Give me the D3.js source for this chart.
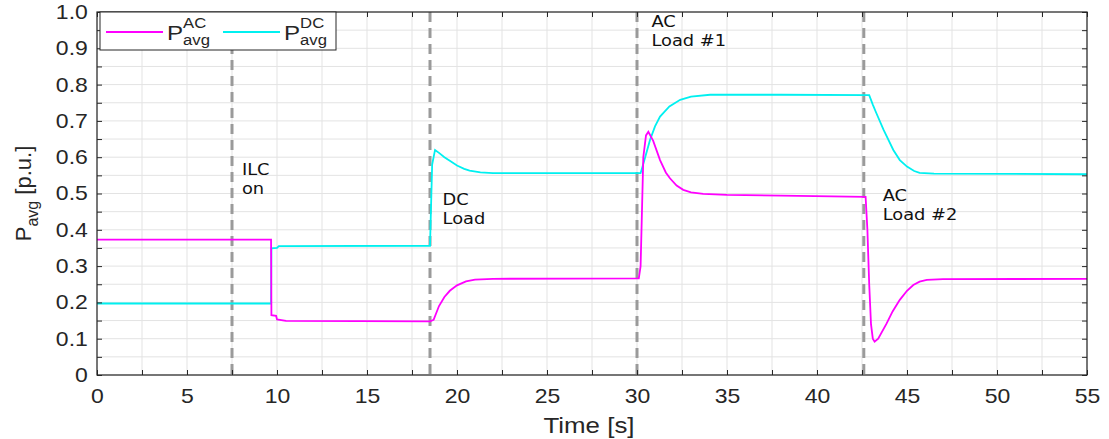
<!DOCTYPE html>
<html><head><meta charset="utf-8">
<script src="https://cdn.jsdelivr.net/npm/d3@7"></script>
<style>body{margin:0;background:#fff}svg{display:block}</style>
</head><body><svg id="c" width="1109" height="439"></svg>
<script>
// ---- data ----
const acTime  = [0,9.67,9.69,9.95,10.0,10.5,18.5,18.7,19.0,19.3,19.6,20.0,20.5,21.0,22,30.1,30.2,30.35,30.5,30.63,30.9,31.28,31.6,31.83,32.2,32.57,33.0,33.68,35,38,42.7,42.8,42.9,43.0,43.1,43.2,43.4,43.87,44.2,44.6,45.0,45.35,45.7,46.1,47,55];
const acPower = [0.373,0.373,0.165,0.163,0.153,0.149,0.148,0.152,0.19,0.215,0.232,0.247,0.258,0.263,0.265,0.266,0.30,0.60,0.66,0.670,0.645,0.592,0.558,0.542,0.522,0.51,0.503,0.499,0.496,0.494,0.491,0.40,0.25,0.14,0.100,0.092,0.100,0.142,0.175,0.207,0.232,0.248,0.257,0.262,0.264,0.265];
const dcTime  = [0,9.67,9.69,10.0,10.1,18.5,18.55,18.62,18.78,19.0,19.3,19.6,20.0,20.4,20.7,21.3,22,30.2,30.4,30.72,31.0,31.28,31.8,32.4,33.0,34.06,38,42.9,43.1,43.3,43.7,44.24,44.6,45.0,45.4,45.7,46.5,55];
const dcPower = [0.197,0.197,0.349,0.350,0.355,0.356,0.45,0.58,0.620,0.612,0.600,0.590,0.577,0.568,0.563,0.558,0.556,0.556,0.590,0.647,0.685,0.712,0.740,0.758,0.767,0.772,0.772,0.771,0.745,0.721,0.675,0.62,0.592,0.574,0.562,0.557,0.555,0.553];
const eventTimes  = [7.5, 18.5, 30.0, 42.6];
const eventLine1  = ["ILC", "DC", "AC", "AC"];
const eventLine2  = ["on", "Load", "Load #1", "Load #2"];
const eventLabelT = [8.05, 19.2, 30.8, 43.65];
const eventLabelV = [0.565, 0.482, 0.972, 0.493];
const xTicks = [0,5,10,15,20,25,30,35,40,45,50,55];
const yTicks = [0,0.1,0.2,0.3,0.4,0.5,0.6,0.7,0.8,0.9,1.0];
const yTickLabels = ["0","0.1","0.2","0.3","0.4","0.5","0.6","0.7","0.8","0.9","1.0"];

// ---- layout ----
const svg = d3.select("#c");
const L = 97, R = 1087, T = 12, B = 375;
const SX = 1.15; // horizontal text stretch seen in the reference
const x = d3.scaleLinear().domain([0,55]).range([L,R]);
const y = d3.scaleLinear().domain([0,1]).range([B,T]);
const AC = "#ff00ff", DC = "#00f0f0";
const FONT = "Liberation Sans, Arial";

// grid
const gx = d3.range(0,55.01,2.5), gy = d3.range(0,1.001,0.05);
svg.append("g").selectAll("line").data(gx).join("line")
  .attr("x1",d=>x(d)).attr("x2",d=>x(d)).attr("y1",T).attr("y2",B)
  .attr("stroke","#e3e3e3").attr("stroke-width",1);
svg.append("g").selectAll("line").data(gy).join("line")
  .attr("y1",d=>y(d)).attr("y2",d=>y(d)).attr("x1",L).attr("x2",R)
  .attr("stroke","#e3e3e3").attr("stroke-width",1);

// event lines
svg.append("g").selectAll("line").data(eventTimes).join("line")
  .attr("x1",d=>x(d)).attr("x2",d=>x(d)).attr("y1",T).attr("y2",B)
  .attr("stroke","#9a9a9a").attr("stroke-width",3).attr("stroke-dasharray","10,6");

// series
const line = d3.line().x(d=>x(d[0])).y(d=>y(d[1]));
svg.append("path").datum(dcTime.map((t,i)=>[t,dcPower[i]]))
  .attr("d",line).attr("fill","none").attr("stroke",DC).attr("stroke-width",1.8);
svg.append("path").datum(acTime.map((t,i)=>[t,acPower[i]]))
  .attr("d",line).attr("fill","none").attr("stroke",AC).attr("stroke-width",1.8);

// event labels
eventTimes.forEach((e,i)=>{
  const g = svg.append("g").attr("transform",`translate(${x(eventLabelT[i])},${y(eventLabelV[i])+5}) scale(${SX},1)`);
  const t = g.append("text").attr("font-family","DejaVu Sans").attr("font-size",15.5).attr("fill","#111");
  t.append("tspan").attr("x",0).text(eventLine1[i]);
  t.append("tspan").attr("x",0).attr("dy",19).text(eventLine2[i]);
});

// axes
const minorX = d3.range(0,55.01,2.5), minorY = d3.range(0,1.001,0.05);
function ticksOnly(gen, tr){
  svg.append("g").attr("transform",tr)
    .call(gen.tickSizeInner(-5).tickSizeOuter(0).tickFormat(""))
    .call(g=>g.select(".domain").remove()).selectAll("line").attr("stroke","#262626");
}
ticksOnly(d3.axisBottom(x).tickValues(minorX), `translate(0,${B})`);
ticksOnly(d3.axisTop(x).tickValues(minorX), `translate(0,${T})`);
ticksOnly(d3.axisLeft(y).tickValues(minorY), `translate(${L},0)`);
ticksOnly(d3.axisRight(y).tickValues(minorY), `translate(${R},0)`);

svg.append("g").attr("transform",`translate(0,${B})`)
  .call(d3.axisBottom(x).tickValues(xTicks).tickSize(0).tickPadding(14).tickFormat(d3.format("d")))
  .attr("font-family",FONT).attr("font-size",20)
  .call(g=>g.select(".domain").remove())
  .selectAll("text").attr("fill","#262626").attr("transform",`scale(${SX},1)`);
svg.append("g").attr("transform",`translate(${L},0)`)
  .call(d3.axisLeft(y).tickValues(yTicks).tickSize(0).tickPadding(8).tickFormat((d,i)=>yTickLabels[i]))
  .attr("font-family",FONT).attr("font-size",20)
  .call(g=>g.select(".domain").remove())
  .selectAll("text").attr("fill","#262626").attr("transform",`scale(${SX},1)`);

svg.append("rect").attr("x",L).attr("y",T).attr("width",R-L).attr("height",B-T)
  .attr("fill","none").attr("stroke","#262626").attr("stroke-width",1.2);

// axis titles
svg.append("g").attr("transform",`translate(${(L+R)/2-3},433) scale(${SX},1)`)
  .append("text").attr("text-anchor","middle")
  .attr("font-family",FONT).attr("font-size",22.5).attr("fill","#262626").text("Time [s]");
const yl = svg.append("text").attr("transform",`translate(31,${(T+B)/2}) rotate(-90)`).attr("text-anchor","middle")
  .attr("font-family",FONT).attr("font-size",22).attr("fill","#262626");
yl.append("tspan").text("P");
yl.append("tspan").attr("font-size",16).attr("dy",7).text("avg");
yl.append("tspan").attr("dy",-7).text(" [p.u.]");

// legend
const lg = svg.append("g");
lg.append("rect").attr("x",100).attr("y",12).attr("width",236).attr("height",38)
  .attr("fill","#fff").attr("stroke","#262626").attr("stroke-width",1);
const items = [{c:AC,sup:"AC",x0:106},{c:DC,sup:"DC",x0:223}];
items.forEach(it=>{
  lg.append("line").attr("x1",it.x0).attr("x2",it.x0+57).attr("y1",32).attr("y2",32)
    .attr("stroke",it.c).attr("stroke-width",1.8);
  const g = lg.append("g").attr("transform",`translate(${it.x0+61},40) scale(${SX},1)`);
  const t = g.append("text").attr("font-family",FONT).attr("font-size",21).attr("fill","#262626");
  t.append("tspan").attr("x",0).text("P");
  t.append("tspan").attr("font-size",14.5).attr("dy",-12).text(it.sup);
  t.append("tspan").attr("font-size",14.5).attr("x",14).attr("dy",17).text("avg");
});
</script></body></html>
